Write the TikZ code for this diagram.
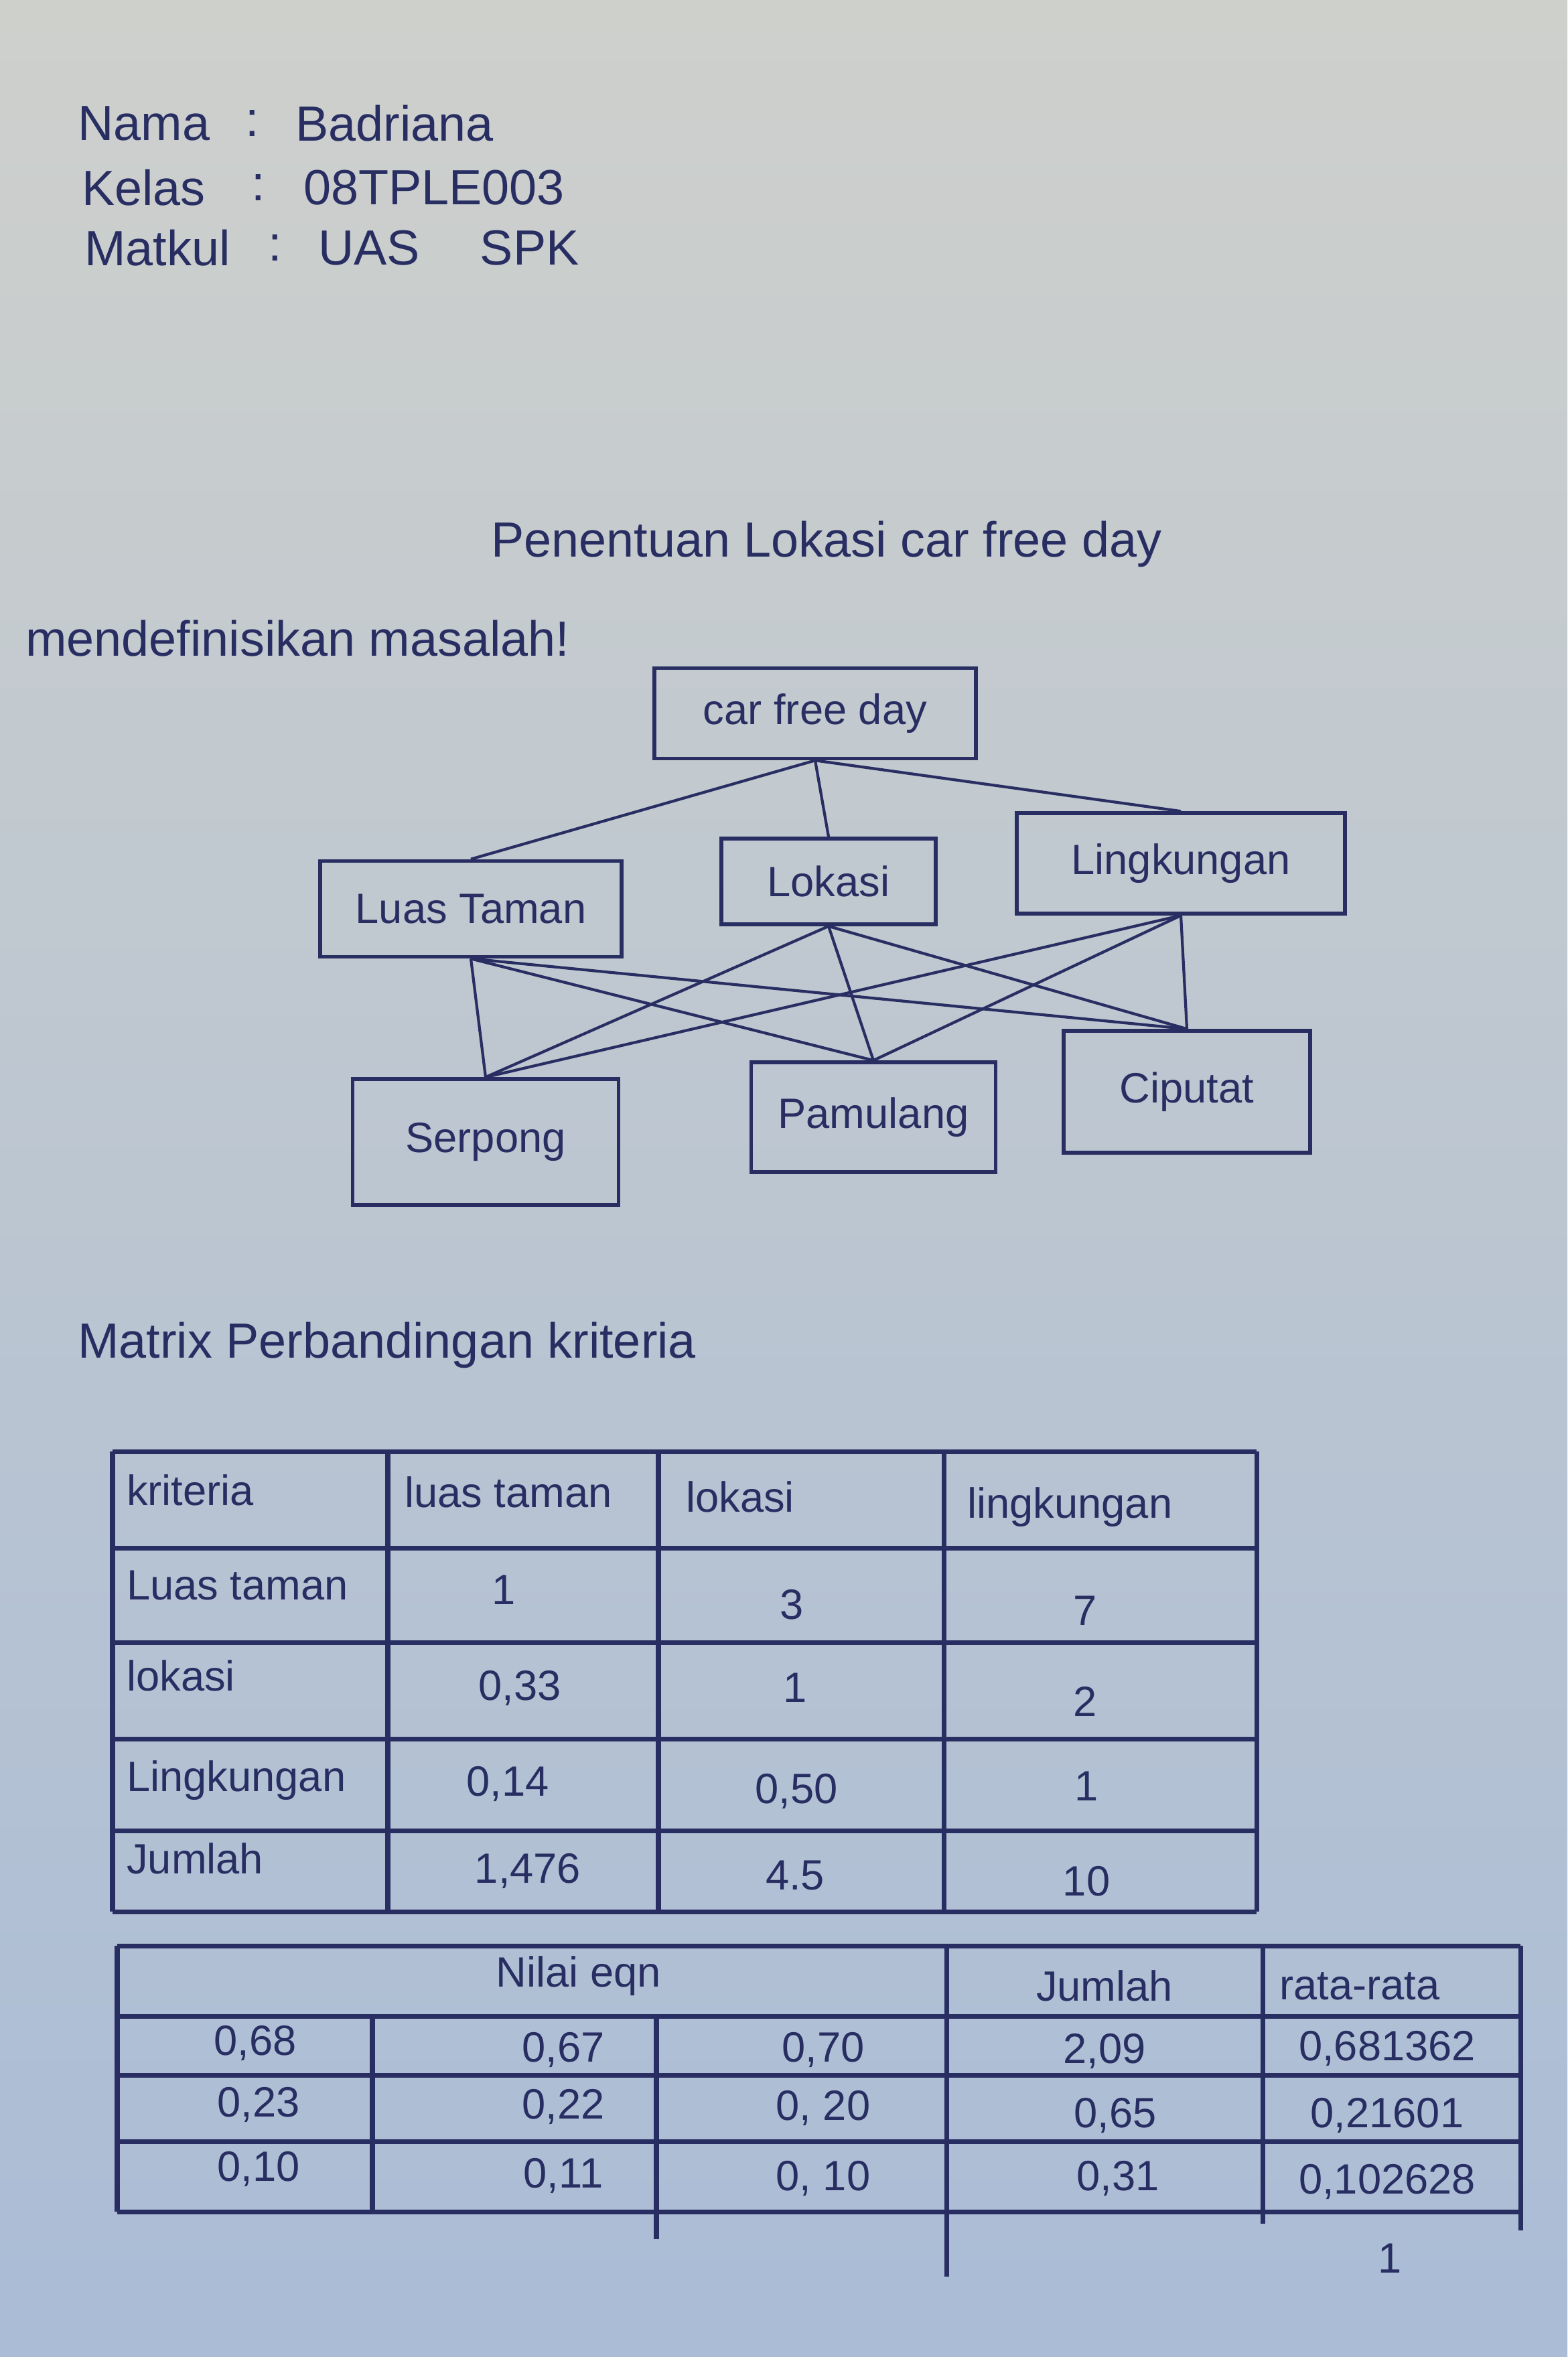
\documentclass[tikz,border=0pt]{standalone}
\usepackage{fontspec}
\setmainfont{Liberation Sans}
\definecolor{ink}{RGB}{40,46,98}
\definecolor{paperTop}{RGB}{206,208,204}
\definecolor{paperBot}{RGB}{170,188,214}

\begin{document}
\begin{tikzpicture}[
        hw/.style={text=ink, font=\fontsize{21}{25}\selectfont, inner sep=1pt},
        cell/.style={text=ink, font=\fontsize{18}{22}\selectfont, inner sep=1pt},
        box/.style={draw=ink, line width=1.6pt, align=center, text=ink, font=\fontsize{18}{22}\selectfont},
        link/.style={draw=ink, line width=1.2pt},
        grid/.style={draw=ink, line width=2pt}
    ]

    % Paper
    \useasboundingbox (0,0) rectangle (23.40,-35.19);
    \shade[top color=paperTop, bottom color=paperBot] (0,0) rectangle (23.40,-35.19);

    % Identity
    \node[hw, anchor=west] (nama) at (1.12,-1.84) {Nama};
    \node[hw] (namaSep) at (3.77,-1.84) {:};
    \node[hw, anchor=west] (namaVal) at (4.37,-1.84) {Badriana};
    \node[hw, anchor=west] (kelas) at (1.18,-2.80) {Kelas};
    \node[hw] (kelasSep) at (3.86,-2.80) {:};
    \node[hw, anchor=west] (kelasVal) at (4.49,-2.80) {08TPLE003};
    \node[hw, anchor=west] (matkul) at (1.22,-3.70) {Matkul};
    \node[hw] (matkulSep) at (4.11,-3.70) {:};
    \node[hw, anchor=west] (matkulVal) at (4.71,-3.70) {UAS\hspace{0.9cm}SPK};

    % Title
    \node[hw, anchor=west] (title) at (7.29,-8.12) {Penentuan Lokasi car free day};
    \node[hw, anchor=west] (masalah) at (0.34,-9.53) {mendefinisikan masalah!};

    % Hierarchy
    \node[box, minimum width=4.8cm, minimum height=1.35cm] (cfd) at (12.17,-10.65) {car free day};
    \node[box, minimum width=4.5cm, minimum height=1.43cm] (luas) at (7.03,-13.57) {Luas Taman};
    \node[box, minimum width=3.2cm, minimum height=1.28cm] (lokasi) at (12.37,-13.16) {Lokasi};
    \node[box, minimum width=4.9cm, minimum height=1.50cm] (lingk) at (17.63,-12.89) {Lingkungan};
    \node[box, minimum width=3.97cm, minimum height=1.88cm] (serpong) at (7.25,-17.05) {Serpong};
    \node[box, minimum width=3.65cm, minimum height=1.64cm] (pamulang) at (13.04,-16.68) {Pamulang};
    \node[box, minimum width=3.68cm, minimum height=1.82cm] (ciputat) at (17.72,-16.30) {Ciputat};

    \foreach \k in {luas, lokasi, lingk}
        \draw[link] (cfd.south) -- (\k.north);
    \foreach \k in {luas, lokasi, lingk}
        \foreach \a in {serpong, pamulang, ciputat}
            \draw[link] (\k.south) -- (\a.north);

    % Matrix perbandingan kriteria
    \node[hw, anchor=west] (matrix) at (1.12,-20.08) {Matrix Perbandingan kriteria};

    \foreach \y in {-21.67,-23.11,-24.52,-25.96,-27.33,-28.54}
        \draw[grid] (1.68,\y) -- (18.76,\y);
    \foreach \x in {1.68,5.79,9.83,14.09,18.76}
        \draw[grid] (\x,-21.67) -- (\x,-28.54);

    \node[cell, anchor=west] (hKrit) at (1.85,-22.25) {kriteria};
    \node[cell, anchor=west] (hLuas) at (6.00,-22.28) {luas taman};
    \node[cell, anchor=west] (hLok) at (10.20,-22.35) {lokasi};
    \node[cell, anchor=west] (hLing) at (14.40,-22.50) {lingkungan};

    \node[cell, anchor=west] (rLuas) at (1.85,-23.67) {Luas taman};
    \node[cell] (c11) at (7.52,-23.74) {1};
    \node[cell] (c12) at (11.82,-23.96) {3};
    \node[cell] (c13) at (16.20,-24.05) {7};

    \node[cell, anchor=west] (rLok) at (1.85,-25.02) {lokasi};
    \node[cell] (c21) at (7.76,-25.20) {0,33};
    \node[cell] (c22) at (11.87,-25.20) {1};
    \node[cell] (c23) at (16.20,-25.40) {2};

    \node[cell, anchor=west] (rLing) at (1.85,-26.58) {Lingkungan};
    \node[cell] (c31) at (7.58,-26.63) {0,14};
    \node[cell] (c32) at (11.89,-26.74) {0,50};
    \node[cell] (c33) at (16.22,-26.67) {1};

    \node[cell, anchor=west] (rJml) at (1.85,-27.75) {Jumlah};
    \node[cell] (c41) at (7.88,-27.93) {1,476};
    \node[cell] (c42) at (11.87,-28.00) {4.5};
    \node[cell] (c43) at (16.22,-28.09) {10};

    % Nilai eigen
    \foreach \y in {-29.05,-30.10,-30.98,-31.97,-33.02}
        \draw[grid] (1.75,\y) -- (22.70,\y);
    \draw[grid] (1.75,-29.05) -- (1.75,-33.02);
    \draw[grid] (5.56,-30.10) -- (5.56,-33.02);
    \draw[grid] (9.80,-30.10) -- (9.80,-33.43);
    \draw[grid] (14.13,-29.05) -- (14.13,-33.99);
    \draw[grid] (18.85,-29.05) -- (18.85,-33.20);
    \draw[grid] (22.70,-29.05) -- (22.70,-33.30);

    \node[cell] (hEqn) at (8.64,-29.50) {Nilai eqn};
    \node[cell] (hJml) at (16.49,-29.65) {Jumlah};
    \node[cell] (hRata) at (20.30,-29.65) {rata-rata};

    \node[cell] (e11) at (3.81,-30.50) {0,68};
    \node[cell] (e12) at (8.41,-30.60) {0,67};
    \node[cell] (e13) at (12.29,-30.60) {0,70};
    \node[cell] (j1) at (16.49,-30.62) {2,09};
    \node[cell] (r1) at (20.71,-30.58) {0,681362};

    \node[cell] (e21) at (3.86,-31.42) {0,23};
    \node[cell] (e22) at (8.41,-31.45) {0,22};
    \node[cell] (e23) at (12.29,-31.47) {0, 20};
    \node[cell] (j2) at (16.65,-31.58) {0,65};
    \node[cell] (r2) at (20.71,-31.58) {0,21601};

    \node[cell] (e31) at (3.86,-32.38) {0,10};
    \node[cell] (e32) at (8.41,-32.48) {0,11};
    \node[cell] (e33) at (12.29,-32.52) {0, 10};
    \node[cell] (j3) at (16.69,-32.52) {0,31};
    \node[cell] (r3) at (20.71,-32.57) {0,102628};

    \node[cell] (total) at (20.75,-33.72) {1};

\end{tikzpicture}
\end{document}
